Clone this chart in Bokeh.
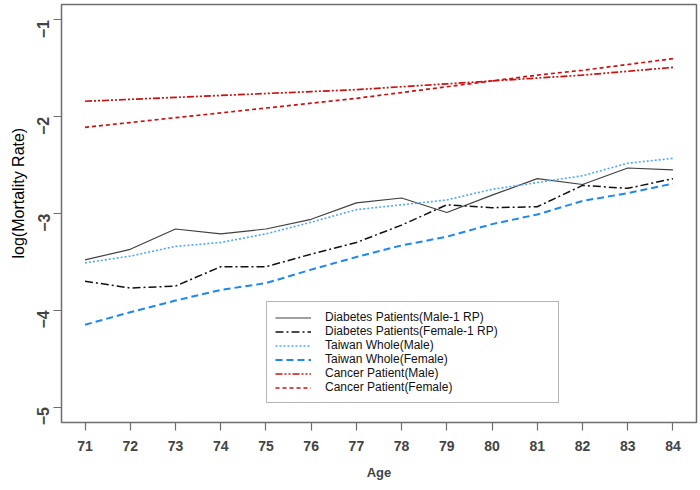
import math
from bokeh.plotting import figure
from bokeh.models import Range1d, FixedTicker, Legend, LegendItem, Title
from bokeh.embed import file_html
from bokeh.resources import INLINE

ages = [71, 72, 73, 74, 75, 76, 77, 78, 79, 80, 81, 82, 83, 84]
diab_male = [-3.48, -3.37, -3.16, -3.21, -3.16, -3.06, -2.89, -2.84, -2.99, -2.81, -2.64, -2.70, -2.53, -2.55]
diab_female = [-3.70, -3.77, -3.75, -3.55, -3.55, -3.42, -3.30, -3.12, -2.91, -2.94, -2.93, -2.71, -2.74, -2.64]
taiwan_male = [-3.51, -3.44, -3.34, -3.30, -3.21, -3.09, -2.96, -2.91, -2.86, -2.75, -2.68, -2.61, -2.48, -2.43]
taiwan_female = [-4.15, -4.02, -3.90, -3.79, -3.72, -3.58, -3.45, -3.33, -3.24, -3.11, -3.01, -2.87, -2.79, -2.69]
cancer_male = [-1.84, -1.82, -1.80, -1.78, -1.76, -1.74, -1.72, -1.69, -1.66, -1.63, -1.60, -1.57, -1.53, -1.49]
cancer_female = [-2.11, -2.06, -2.01, -1.96, -1.91, -1.86, -1.81, -1.75, -1.69, -1.63, -1.57, -1.52, -1.46, -1.40]
y_ticks = [-5, -4, -3, -2, -1]

FONT = "Liberation Sans"

p = figure(width=700, height=490, output_backend="svg", toolbar_location=None,
           x_range=Range1d(70.48, 84.52), y_range=Range1d(-5.16, -0.84),
           min_border_left=61, min_border_right=4, min_border_top=4, min_border_bottom=68)
p.xgrid.visible = False
p.ygrid.visible = False
p.outline_line_color = "#6e6e6e"
p.outline_line_width = 1.5
p.background_fill_color = "white"
p.border_fill_color = "white"

series = [
    ("Diabetes Patients(Male-1 RP)", diab_male, "#404040", 1.2, "solid"),
    ("Diabetes Patients(Female-1 RP)", diab_female, "#111111", 1.5, "8 3 2 3"),
    ("Taiwan Whole(Male)", taiwan_male, "#4da6ff", 1.6, "2 2"),
    ("Taiwan Whole(Female)", taiwan_female, "#1e88f0", 2.0, "7 4"),
    ("Cancer Patient(Male)", cancer_male, "#cc1111", 1.7, "7 2 2 2 2 2"),
    ("Cancer Patient(Female)", cancer_female, "#cc1111", 1.7, "4 3"),
]

items = []
for name, ys, col, lw, dash in series:
    r = p.line(ages, ys, line_color=col, line_width=lw, line_dash=dash)
    items.append(LegendItem(label=name, renderers=[r]))

legend = Legend(items=items, location=(205, 19), orientation="vertical",
                label_text_font=FONT, label_text_font_size="12px", label_text_color="#111111",
                label_height=13, glyph_height=13, glyph_width=36, spacing=0,
                padding=8, margin=0, label_standoff=14, label_width=225,
                border_line_color="#6e6e6e", border_line_width=1.5,
                background_fill_color="white", background_fill_alpha=1.0)
p.add_layout(legend, "center")

xa = p.xaxis[0]
xa.ticker = FixedTicker(ticks=ages)
xa.axis_line_color = None
xa.major_tick_in = 0
xa.major_tick_out = 8
xa.major_tick_line_color = "#6e6e6e"
xa.major_tick_line_width = 1.2
xa.minor_tick_line_color = None
xa.major_label_text_font = FONT
xa.major_label_text_font_size = "14px"
xa.major_label_text_font_style = "bold"
xa.major_label_standoff = 10
xa.axis_label = "Age"
xa.axis_label_text_font = FONT
xa.axis_label_text_font_size = "13px"
xa.axis_label_text_font_style = "bold"
xa.axis_label_standoff = 11

ya = p.yaxis[0]
ya.ticker = FixedTicker(ticks=y_ticks)
ya.axis_line_color = None
ya.major_tick_in = 0
ya.major_tick_out = 8
ya.major_tick_line_color = "#6e6e6e"
ya.major_tick_line_width = 1.2
ya.minor_tick_line_color = None
ya.major_label_orientation = math.pi / 2
ya.major_label_text_font = FONT
ya.major_label_text_font_size = "16px"
ya.major_label_text_font_style = "bold"
ya.major_label_standoff = 10

ytitle = Title(text="log(Mortality Rate)", align="left", offset=164, standoff=4,
               text_font=FONT, text_font_size="16px", text_font_style="normal",
               text_color="black")
p.add_layout(ytitle, "left")

open("out.html", "w").write(file_html(p, INLINE))
